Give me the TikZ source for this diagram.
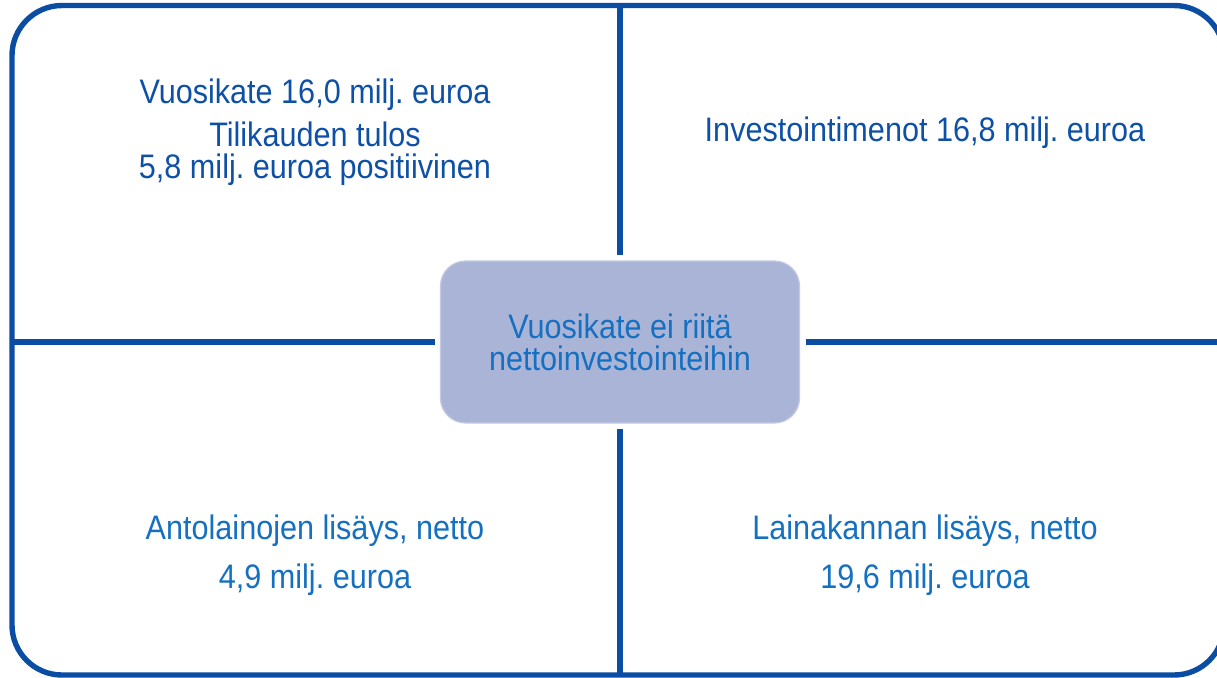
\documentclass[tikz,border=0pt]{standalone}
\usepackage{fontspec}
\setmainfont{Liberation Sans}[FakeStretch=0.9]
\usetikzlibrary{positioning}
\frenchspacing

\definecolor{frameblue}{HTML}{0A4DA2}
\definecolor{darktext}{HTML}{0D50A6}
\definecolor{lighttext}{HTML}{1570C1}
\definecolor{corefill}{HTML}{AAB4D6}

\begin{document}
\begin{tikzpicture}[x=0.5pt, y=-0.5pt,
    divider/.style={draw=frameblue, line width=2.7pt},
    label/.style={anchor=base, inner sep=0pt, font=\fontsize{17}{16}\selectfont},
    core/.style={fill=corefill, draw=corefill!70!white, line width=0.6pt,
        rounded corners=12.5pt, minimum width=179.5pt, minimum height=81pt,
        outer sep=3pt, align=center, text=lighttext,
        font=\fontsize{17}{16}\selectfont}]
    \useasboundingbox (0,0) rectangle (1217,677);
    \clip (0,0) rectangle (1217,677);

    % frame
    \draw[divider, rounded corners=25pt] (12,5.5) rectangle (1224,675);

    % centre box
    \node[core] (core) at (620,342) {Vuosikate ei riitä\\nettoinvestointeihin};

    \coordinate (topmid) at (620,5.5);
    \coordinate (botmid) at (620,675);
    \coordinate (leftmid) at (12,342);
    \coordinate (rightmid) at (1224,342);

    \draw[divider] (topmid) -- (core.north);
    \draw[divider] (core.south) -- (botmid);
    \draw[divider] (leftmid) -- (core.west);
    \draw[divider] (core.east) -- (rightmid);

    % quarters
    \node[label, text=darktext] (vuosikate) at (315,103) {Vuosikate 16,0 milj. euroa};
    \node[label, text=darktext] (tulos) at (315,146) {Tilikauden tulos};
    \node[label, text=darktext] (tulosarvo) at (315,178) {5,8 milj. euroa positiivinen};
    \node[label, text=darktext] (investoinnit) at (925,141) {Investointimenot 16,8 milj. euroa};

    \node[label, text=lighttext] (antolainat) at (315,539) {Antolainojen lisäys, netto};
    \node[label, text=lighttext] (antoarvo) at (315,588) {4,9 milj. euroa};
    \node[label, text=lighttext] (lainakanta) at (925,539) {Lainakannan lisäys, netto};
    \node[label, text=lighttext] (lainaarvo) at (925,588) {19,6 milj. euroa};
\end{tikzpicture}
\end{document}
